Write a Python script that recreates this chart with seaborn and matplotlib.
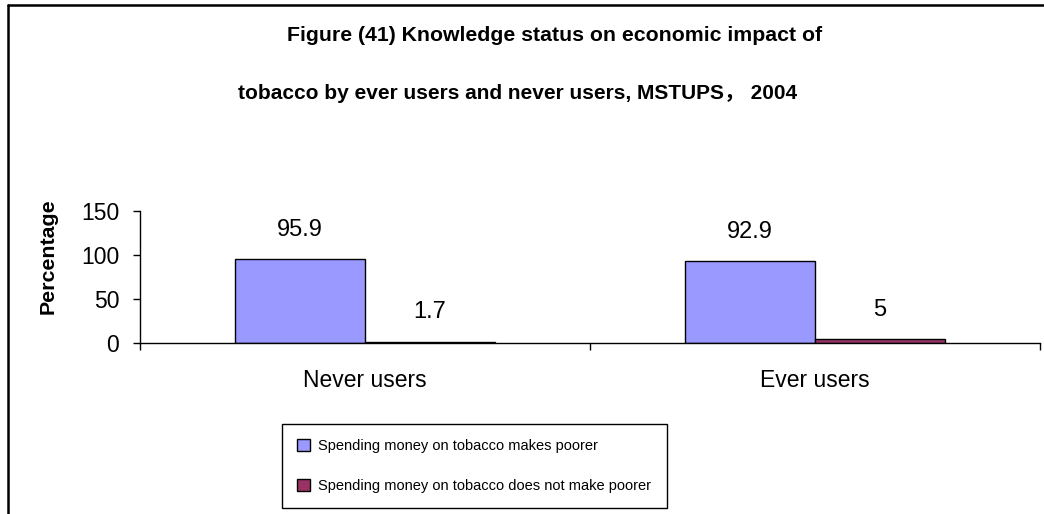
import matplotlib
matplotlib.use("Agg")
import matplotlib.pyplot as plt
from matplotlib.lines import Line2D
import seaborn as sns
import pandas as pd

groups = ["Never users", "Ever users"]
series = ["Spending money on tobacco makes poorer",
          "Spending money on tobacco does not make poorer"]
makes_poorer = [95.9, 92.9]
not_poorer = [1.7, 5]
colors = ["#9999FF", "#993366"]
yticks = [0, 50, 100, 150]

sns.set_style("ticks")
plt.rcParams["font.family"] = ["Liberation Sans", "Noto Sans CJK SC", "DejaVu Sans"]
plt.rcParams["text.color"] = "black"
plt.rcParams["axes.labelcolor"] = "black"
plt.rcParams["xtick.color"] = "black"
plt.rcParams["ytick.color"] = "black"

df = pd.DataFrame({
    "group": groups * 2,
    "series": [series[0]] * 2 + [series[1]] * 2,
    "value": makes_poorer + not_poorer,
})

fig = plt.figure(figsize=(10.44, 5.14), dpi=100)
ax = fig.add_axes([140 / 1044, 1 - 343 / 514, 900 / 1044, 132 / 514])

sns.barplot(data=df, x="group", y="value", hue="series", order=groups,
            hue_order=series, palette=colors, width=0.578, saturation=1,
            edgecolor="black", linewidth=1, ax=ax, errorbar=None)

for cont in ax.containers:
    ax.bar_label(cont, labels=[f"{b.get_height():g}" for b in cont],
                 padding=13, fontsize=17, color="black")

ax.set_xlim(-0.5, 1.5)
ax.set_ylim(0, 150)
ax.set_yticks(yticks)
ax.set_yticklabels([str(t) for t in yticks], fontsize=16.5)
ax.tick_params(axis="y", length=5, width=1, pad=10)
ax.tick_params(axis="x", which="major", length=0, pad=19, labelsize=16.5)
ax.set_xticks([-0.5, 0.5, 1.5], minor=True)
ax.tick_params(axis="x", which="minor", length=5, width=1, direction="out")
ax.set_xlabel("")
ax.set_ylabel("Percentage", fontsize=15.4, fontweight="bold")
ax.yaxis.set_label_coords(-0.092, 0.655)
for s in ["top", "right"]:
    ax.spines[s].set_visible(False)
for s in ["left", "bottom"]:
    ax.spines[s].set_color("black")
    ax.spines[s].set_linewidth(1)

leg = ax.get_legend()
handles = leg.legend_handles
leg.remove()
fig.legend(handles, series, loc="upper left",
           bbox_to_anchor=(282 / 1044, 1 - 424 / 514), fontsize=10.5,
           frameon=True, fancybox=False, edgecolor="black", framealpha=1,
           borderpad=1.05, labelspacing=1.77, handlelength=0.85,
           handleheight=0.85, handletextpad=0.6, borderaxespad=0)
fig.legends[0].get_frame().set_linewidth(1)

fig.text(555 / 1044, 1 - 41 / 514,
         "Figure (41) Knowledge status on economic impact of",
         ha="center", va="baseline", fontsize=15.3, fontweight="bold")
fig.text(518 / 1044, 1 - 99 / 514,
         "tobacco by ever users and never users, MSTUPS\uff0c 2004",
         ha="center", va="baseline", fontsize=15, fontweight="bold")

fig.add_artist(Line2D([8 / 1044, 8 / 1044], [0, 1 - 5 / 514],
                      transform=fig.transFigure, color="black", lw=1.8))
fig.add_artist(Line2D([8 / 1044, 1], [1 - 5 / 514, 1 - 5 / 514],
                      transform=fig.transFigure, color="black", lw=1.8))

fig.savefig("out.png", dpi=100)
